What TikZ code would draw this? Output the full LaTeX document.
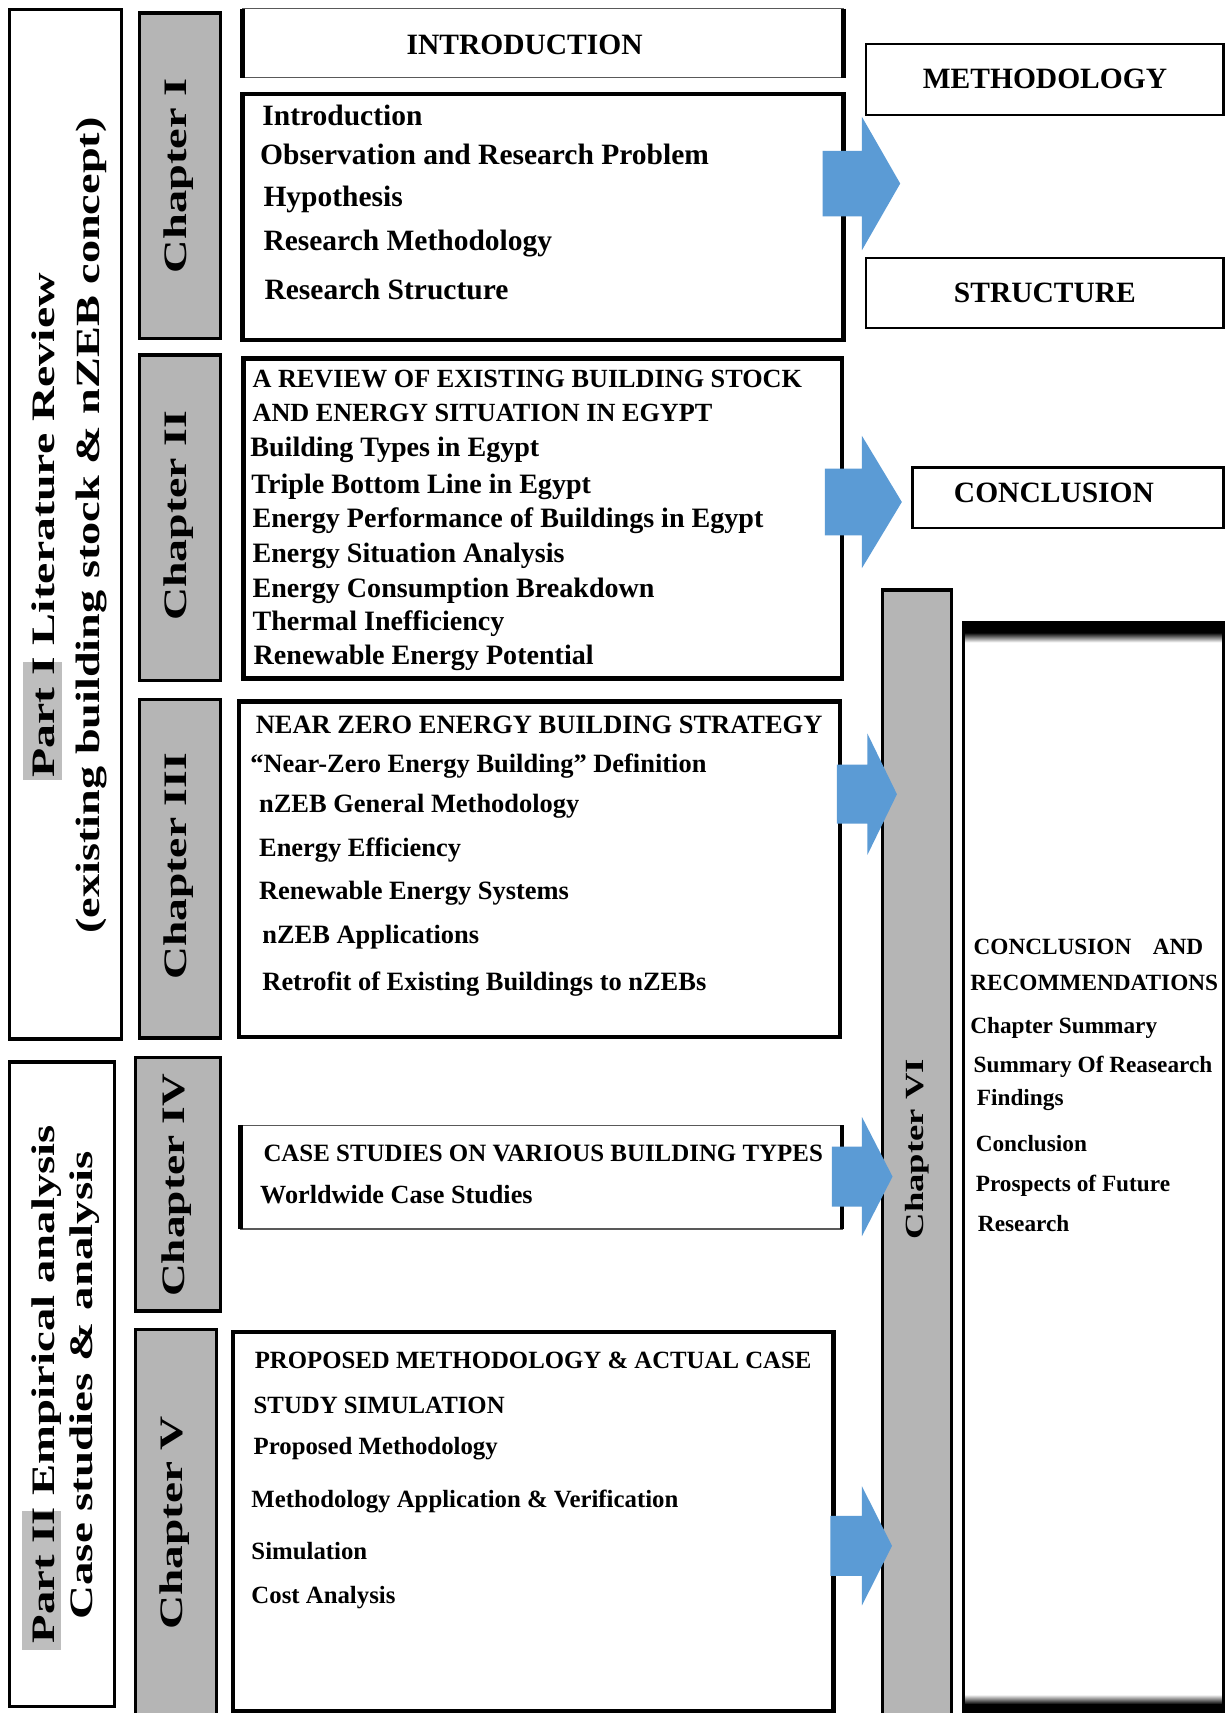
\documentclass[tikz,border=0pt]{standalone}
\usepackage{fontspec}
\setmainfont{Liberation Serif}
\usepackage{graphicx}
\definecolor{chapgray}{RGB}{181,181,181}
\definecolor{hlgray}{RGB}{190,190,190}
\definecolor{arrowblue}{RGB}{91,155,213}
\newcommand\myfs[1]{\fontsize{#1bp}{#1bp}\selectfont}
\newcommand\stretchtxt[3]{\resizebox{#2bp}{\height}{\myfs{#1}\bfseries #3}}
% box node: style, name, x1, y1, x2, y2
\newcommand\boxnode[6][]{\node[#1, anchor=north west, inner sep=0pt, outer sep=0pt,
  minimum width={(#5-#3)*1bp}, minimum height={(#6-#4)*1bp}] (#2) at (#3,#4) {};}
% block arrow: name, x0, x1, x2, yc, shaft half, head half
\newcommand\blockarrow[7]{%
  \coordinate (#1) at (#4,#5);
  \fill[arrowblue] (#2,#5-#6) -- (#3,#5-#6) -- (#3,#5-#7) -- (#1) -- (#3,#5+#7) -- (#3,#5+#6) -- (#2,#5+#6) -- cycle;}
\tikzset{
  txt/.style={anchor=base west, inner sep=0pt, font=\bfseries},
  ctxt/.style={anchor=base, inner sep=0pt, font=\bfseries},
  rtxt/.style={anchor=base, rotate=90, inner sep=0pt},
  chapbox/.style={draw=black, line width=3bp, fill=chapgray},
  partbox/.style={draw=black, line width=3bp, fill=white},
  contbox/.style={draw=black, line width=4bp, fill=white},
  thinbox/.style={draw=black!65, line width=1.2bp, fill=white},
  thickside/.style={draw=black, line width=4bp},
  labbox/.style={draw=black, line width=2bp, fill=white},
  hl/.style={fill=hlgray, draw=none},
}
\begin{document}
\begin{tikzpicture}[x=1bp, y=-1bp]
\useasboundingbox (0,0) rectangle (1123,1568);
\fill[white] (0,0) rectangle (1123,1568);

% ---------- Part boxes ----------
\boxnode[partbox]{p1}{9}{9}{111}{951}
\boxnode[partbox]{p2}{9}{972}{105}{1562}
\fill[hl] (21,606) rectangle (56.5,714);
\fill[hl] (20,1383) rectangle (56,1510);
\node[rtxt] (p1a) at (50,481) {\stretchtxt{30}{462}{Part I Literature Review}};
\node[rtxt] (p1b) at (91,481) {\stretchtxt{31}{747}{(existing building stock \& nZEB concept)}};
\node[rtxt] (p2a) at (50,1267) {\stretchtxt{30}{474}{Part II Empirical analysis}};
\node[rtxt] (p2b) at (85,1268) {\stretchtxt{30}{429}{Case studies \& analysis}};

% ---------- Chapter boxes ----------
\boxnode[chapbox]{c1}{128}{12}{202}{310}
\boxnode[chapbox]{c2}{128}{325}{202}{623}
\boxnode[chapbox]{c3}{128}{640}{202}{950}
\boxnode[chapbox]{c4}{124}{968}{202}{1200}
\boxnode[chapbox]{c5}{124}{1217}{198}{1580}
\boxnode[chapbox]{c6}{808}{540}{871}{1580}
\node[rtxt] (c1t) at (171,161) {\stretchtxt{30}{178}{Chapter I}};
\node[rtxt] (c2t) at (171,472) {\stretchtxt{30}{192}{Chapter II}};
\node[rtxt] (c3t) at (171,793) {\stretchtxt{30}{207}{Chapter III}};
\node[rtxt] (c4t) at (169,1085) {\stretchtxt{30}{204}{Chapter IV}};
\node[rtxt] (c5t) at (167,1394) {\stretchtxt{30}{196}{Chapter V}};
\node[rtxt] (c6t) at (845,1052) {\stretchtxt{24}{165}{Chapter VI}};

% ---------- Chapter I ----------
\boxnode[thinbox]{intro}{222}{8}{772}{71}
\draw[thickside] (intro.north west) -- (intro.south west);
\draw[thickside] (intro.north east) -- (intro.south east);
\node[txt] (introT) at (372,50) {\myfs{27}INTRODUCTION};
\boxnode[contbox]{b1}{222}{86}{772}{311}
\node[txt] (b1a) at (240,114.5) {\myfs{27}Introduction};
\node[txt] (b1b) at (238,151) {\myfs{27}Observation and Research Problem};
\node[txt] (b1c) at (241,189) {\myfs{27}Hypothesis};
\node[txt] (b1d) at (241,229.5) {\myfs{27}Research Methodology};
\node[txt] (b1e) at (242,274.5) {\myfs{27}Research Structure};

\boxnode[labbox]{meth}{793}{40}{1120}{105}
\draw[black, line width=3bp] (meth.north east) -- (meth.south east);
\node[ctxt] (methT) at (956.5,81) {\myfs{27}METHODOLOGY};
\boxnode[labbox]{struct}{793}{236}{1120}{300}
\draw[black, line width=3bp] (struct.north east) -- (struct.south east);
\node[ctxt] (structT) at (956.5,277) {\myfs{27}STRUCTURE};

% ---------- Chapter II ----------
\boxnode[contbox]{b2}{223}{328}{771}{621}
\node[txt] (b2a) at (231,355) {\myfs{24}A REVIEW OF EXISTING BUILDING STOCK};
\node[txt] (b2b) at (231,386) {\myfs{24}AND ENERGY SITUATION IN EGYPT};
\node[txt] (b2c) at (229,417.5) {\myfs{25.7}Building Types in Egypt};
\node[txt] (b2d) at (230,451.5) {\myfs{25.7}Triple Bottom Line in Egypt};
\node[txt] (b2e) at (231,482.5) {\myfs{25.7}Energy Performance of Buildings in Egypt};
\node[txt] (b2f) at (231,514.5) {\myfs{25.7}Energy Situation Analysis};
\node[txt] (b2g) at (231,546.5) {\myfs{25.7}Energy Consumption Breakdown};
\node[txt] (b2h) at (231,577.5) {\myfs{25.7}Thermal Inefficiency};
\node[txt] (b2i) at (232,608.5) {\myfs{25.7}Renewable Energy Potential};

\boxnode[labbox]{concl}{835}{428}{1120}{483}
\draw[black, line width=3bp] (concl.north east) -- (concl.south east);
\draw[black, line width=3bp] (concl.north west) -- (concl.south west);
\node[txt] (conclT) at (873,460) {\myfs{27}CONCLUSION};

% ---------- Chapter III ----------
\boxnode[contbox]{b3}{219}{642}{769}{949}
\node[txt] (b3a) at (234,671) {\myfs{24.2}NEAR ZERO ENERGY BUILDING STRATEGY};
\node[txt] (b3b) at (229,707) {\myfs{24.2}“Near-Zero Energy Building” Definition};
\node[txt] (b3c) at (237,744) {\myfs{24.2}nZEB General Methodology};
\node[txt] (b3d) at (237,784) {\myfs{24.2}Energy Efficiency};
\node[txt] (b3e) at (237,823) {\myfs{24.2}Renewable Energy Systems};
\node[txt] (b3f) at (240,864) {\myfs{24.2}nZEB Applications};
\node[txt] (b3g) at (240,907) {\myfs{24.2}Retrofit of Existing Buildings to nZEBs};

% ---------- Chapter IV ----------
\boxnode[thinbox]{b4}{220}{1030}{771}{1125}
\draw[thickside] (b4.north west) -- (b4.south west);
\draw[thickside] (b4.north east) -- (b4.south east);
\node[txt] (b4a) at (241,1063.5) {\myfs{22.8}CASE STUDIES ON VARIOUS BUILDING TYPES};
\node[txt] (b4b) at (238,1102) {\myfs{24}Worldwide Case Studies};

% ---------- Chapter V ----------
\boxnode[contbox]{b5}{213}{1219}{763}{1566}
\node[txt] (b5a) at (233,1252.5) {\myfs{22.7}PROPOSED METHODOLOGY \& ACTUAL CASE};
\node[txt] (b5b) at (232,1293.5) {\myfs{22.7}STUDY SIMULATION};
\node[txt] (b5c) at (232,1331.5) {\myfs{22.7}Proposed Methodology};
\node[txt] (b5d) at (230,1379.5) {\myfs{22.7}Methodology Application \& Verification};
\node[txt] (b5e) at (230,1427.5) {\myfs{22.7}Simulation};
\node[txt] (b5f) at (230,1467.5) {\myfs{22.7}Cost Analysis};

% ---------- Chapter VI content ----------
\boxnode[draw=black, line width=2.5bp, fill=white]{b6}{882}{570}{1120}{1567}
\fill[black] (880.75,568.75) rectangle (1121.25,579);
\shade[top color=black, bottom color=white] (880.75,579) rectangle (1121.25,588);
\shade[top color=white, bottom color=black] (880.75,1551) rectangle (1121.25,1560);
\fill[black] (880.75,1560) rectangle (1121.25,1568.25);
\draw[black, line width=2.5bp] (b6.north west) -- (b6.south west);
\draw[black, line width=2.5bp] (b6.north east) -- (b6.south east);
\node[txt] (b6a) at (891,874) {\myfs{21.3}CONCLUSION};
\node[txt] (b6a2) at (1055,874) {\myfs{21.3}AND};
\node[txt] (b6b) at (888,907) {\myfs{21.3}RECOMMENDATIONS};
\node[txt] (b6c) at (888,946) {\myfs{21.3}Chapter Summary};
\node[txt] (b6d) at (891,982) {\myfs{21.3}Summary Of Reasearch};
\node[txt] (b6e) at (894,1012) {\myfs{21.3}Findings};
\node[txt] (b6f) at (893,1054) {\myfs{21.3}Conclusion};
\node[txt] (b6g) at (893,1091) {\myfs{21.3}Prospects of Future};
\node[txt] (b6h) at (895,1127) {\myfs{21.3}Research};

% ---------- Block arrows ----------
\blockarrow{a1}{753}{789}{824}{168}{30}{61}
\blockarrow{a2}{755}{789}{825.5}{459.5}{30.5}{60.5}
\blockarrow{a3}{766}{794}{821}{727}{27}{55.5}
\blockarrow{a4}{761.5}{789}{817}{1077}{27.5}{54.5}
\blockarrow{a5}{760}{789}{816.5}{1415}{27.5}{54.5}
\end{tikzpicture}
\end{document}
